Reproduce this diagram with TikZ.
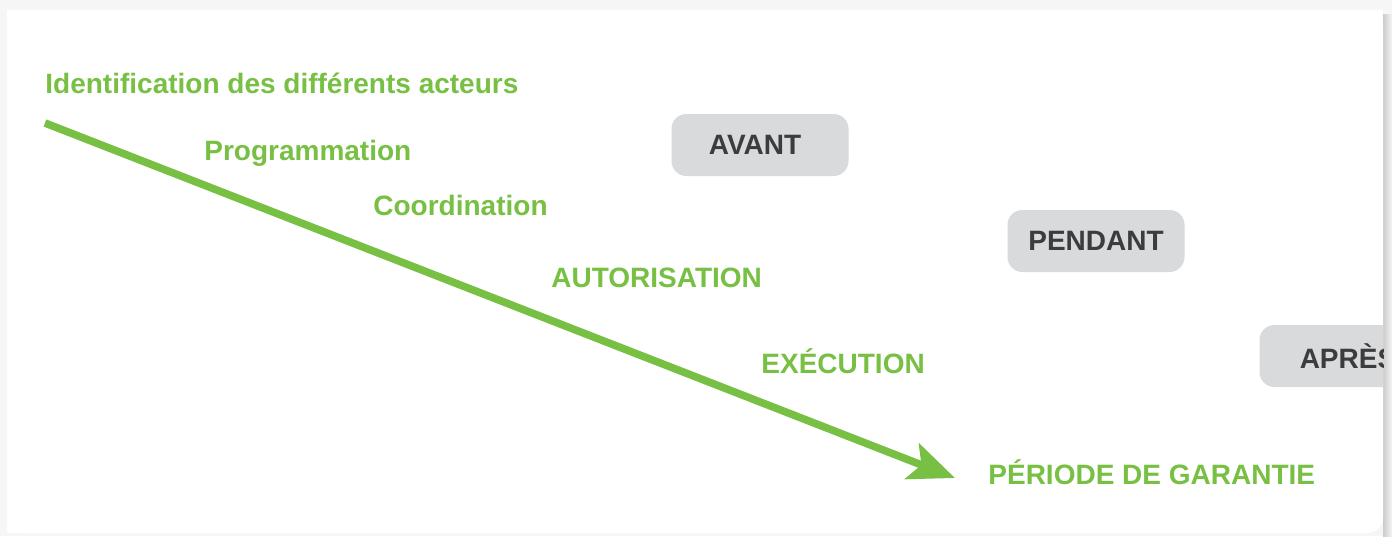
\documentclass[tikz,border=0pt]{standalone}
\usepackage{fontspec}
\setmainfont{Liberation Sans}
\usetikzlibrary{arrows.meta}

\definecolor{leafgreen}{HTML}{77C043}
\definecolor{pillgray}{HTML}{D9DADC}
\definecolor{inkgray}{HTML}{3C3C3E}

\begin{document}
\begin{tikzpicture}[
  x=0.5pt, y=-0.5pt,
  steplabel/.style={anchor=base west, inner sep=0pt, text=leafgreen,
                    font=\fontsize{14}{16}\selectfont\bfseries},
  phase/.style={fill=pillgray, rounded corners=7.5pt, minimum width=88.5pt,
                minimum height=31pt, inner sep=0pt, text=inkgray,
                font=\fontsize{14}{16}\selectfont\bfseries},
  flow/.style={draw=leafgreen, line width=3.8pt,
               -{Stealth[length=23pt,width=19pt,inset=5pt]}},
]
\useasboundingbox (0,0) rectangle (1392,536);

% card and its shadow
\fill[gray!7] (0,0) rectangle (1392,536);
\shade[left color=gray!40, right color=gray!8] (1383,14) rectangle (1392,536);
\fill[white, rounded corners=8pt] (7,10) rectangle (1383,533);
\fill[white] (7,10) rectangle (100,100);
\fill[white] (1300,10) rectangle (1383,100);
\fill[white] (7,440) rectangle (100,533);

% steps along the arrow
\node[steplabel] (ident) at (45,93)  {Identification des différents acteurs};
\node[steplabel] (prog)  at (204,160) {Programmation};
\node[steplabel] (coord) at (373,215) {Coordination};
\node[steplabel] (autor) at (551,287) {AUTORISATION};
\node[steplabel] (exec)  at (761,373) {EXÉCUTION};
\node[steplabel] (garan) at (988,484) {PÉRIODE DE GARANTIE};

% phases
\node[phase] (avant)   at (760,145) {\hspace*{-5pt}AVANT};
\node[phase] (pendant) at (1096,241) {PENDANT};
\begin{scope}
  \clip (7,10) rectangle (1383,533);
  \node[phase] (apres) at (1348,356) {APRÈS};
\end{scope}

\coordinate (start) at (45,123);
\coordinate (tip) at (955,478);
\draw[flow] (start) -- (tip);
\end{tikzpicture}
\end{document}
